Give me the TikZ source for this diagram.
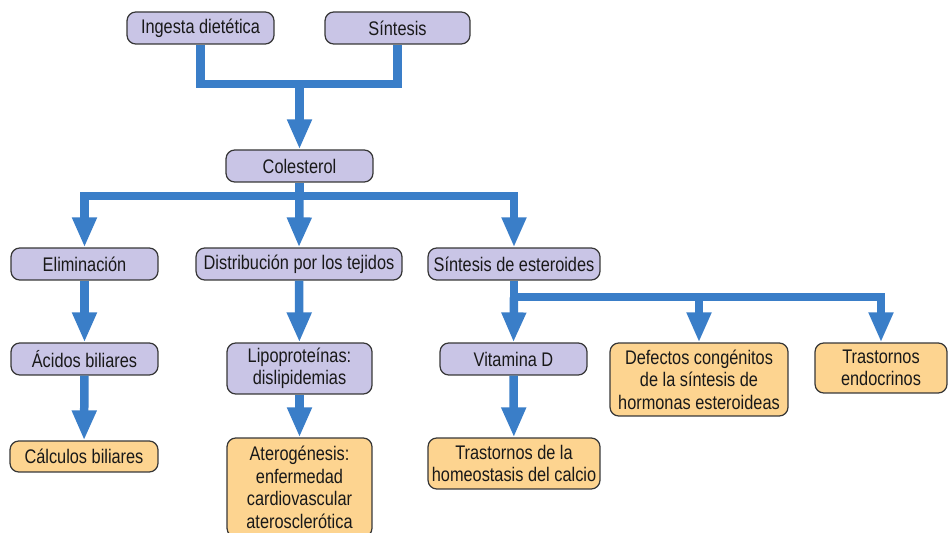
\documentclass[tikz,border=0pt]{standalone}
\usepackage{fontspec}
\setmainfont{Liberation Sans}[FakeStretch=0.83]
\usepackage{xcolor}
\usepackage{tikz}
\usetikzlibrary{arrows.meta, positioning}

\definecolor{flowblue}{RGB}{58,126,200}
\definecolor{lilac}{RGB}{201,197,230}
\definecolor{peach}{RGB}{253,212,144}
\definecolor{edgegray}{RGB}{55,55,55}

\begin{document}
\begin{tikzpicture}[
    x=0.02cm, y=-0.02cm,
    box/.style={rectangle, draw=edgegray, line width=0.7pt, rounded corners=5pt,
                minimum width=2.94cm, minimum height=0.64cm, inner sep=2pt,
                font=\fontsize{11.2}{12.8}\selectfont, text=black!90, align=center},
    stage/.style={box, fill=lilac},
    disorder/.style={box, fill=peach},
    link/.style={line width=0.17cm, flowblue},
    arrow/.style={link, -{Triangle[length=0.6cm,width=0.46cm]}}
]

\useasboundingbox (0,0) rectangle (950,533);

%% --- Sources ---
\node[stage] (ingesta)  at (200.5,28) {Ingesta dietética};
\node[stage, minimum width=2.9cm] (sintesis) at (397.5,28) {Síntesis};
\node[stage] (colesterol) at (299.5,166) {Colesterol};

%% --- Fates of cholesterol ---
\node[stage] (elim) at (84.5,264) {Eliminación};
\node[stage, minimum width=4.12cm] (distrib) at (299,264) {Distribución por los tejidos};
\node[stage, minimum width=3.44cm] (esteroides) at (514,264) {Síntesis de esteroides};

%% --- Intermediates ---
\node[stage] (acidos) at (84.5,359) {Ácidos biliares};
\node[stage, minimum width=2.9cm, minimum height=1.02cm] (lipo) at (299.5,368.5)
      {Lipoproteínas:\\dislipidemias};
\node[stage] (vitd) at (513.5,359) {Vitamina D};

%% --- Disorders ---
\node[disorder, minimum width=3.56cm, minimum height=1.46cm] (defectos) at (699,379.5)
      {Defectos congénitos\\de la síntesis de\\hormonas esteroideas};
\node[disorder, minimum width=2.64cm, minimum height=1.0cm] (endocr) at (881,368)
      {Trastornos\\endocrinos};
\node[disorder, minimum width=2.96cm, minimum height=0.62cm] (calculos) at (84,456.5)
      {Cálculos biliares};
\node[disorder, minimum width=2.9cm, minimum height=1.98cm] (atero) at (299.5,487.5)
      {Aterogénesis:\\enfermedad\\cardiovascular\\aterosclerótica};
\node[disorder, minimum width=3.44cm, minimum height=1.02cm] (homeo) at (514,463.5)
      {Trastornos de la\\homeostasis del calcio};

%% --- Junctions ---
\coordinate (merge) at (299.5,84);
\coordinate (split) at (299.5,196);
\coordinate (branch) at (514,297);

%% --- Connectors ---
\draw[link] (ingesta.south) |- (merge) -| (sintesis.south);
\draw[arrow] (merge) -- (colesterol.north);

\draw[link] (colesterol.south) -- (split);
\draw[arrow] (split) -| (elim.north);
\draw[arrow] (split) -- (distrib.north);
\draw[arrow] (split) -| (esteroides.north);

\draw[link] (esteroides.south) -- (branch);
\draw[arrow] (branch) -- (vitd.north);
\draw[arrow] (branch) -| (defectos.north);
\draw[arrow] (branch) -| (endocr.north);

\draw[arrow] (elim) -- (acidos);
\draw[arrow] (acidos) -- (calculos);
\draw[arrow] (distrib) -- (lipo);
\draw[arrow] (lipo) -- (atero);
\draw[arrow] (vitd) -- (homeo);

\end{tikzpicture}
\end{document}
